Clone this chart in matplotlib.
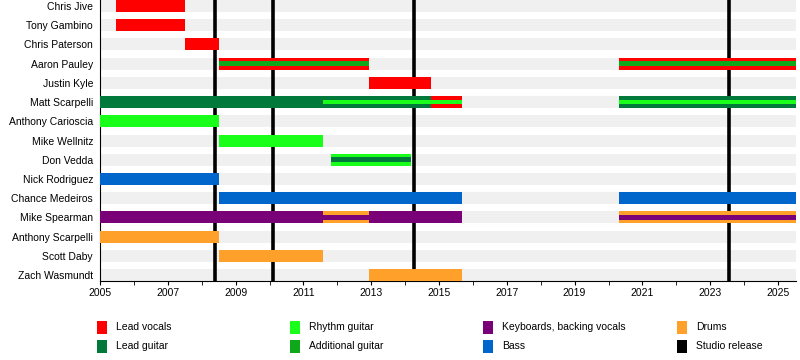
import matplotlib
matplotlib.use("Agg")
import matplotlib.pyplot as plt
from matplotlib.patches import Rectangle

plt.rcParams['font.family'] = ['Liberation Sans', 'DejaVu Sans']

# Members, top to bottom
members = [
    "Chris Jive", "Tony Gambino", "Chris Paterson", "Aaron Pauley", "Justin Kyle",
    "Matt Scarpelli", "Anthony Carioscia", "Mike Wellnitz", "Don Vedda",
    "Nick Rodriguez", "Chance Medeiros", "Mike Spearman", "Anthony Scarpelli",
    "Scott Daby", "Zach Wasmundt",
]

END = 2025.53

# Segments: member, start, end, main role, inner stripe role (None = no stripe)
seg_member = [
    "Chris Jive", "Tony Gambino", "Chris Paterson",
    "Aaron Pauley", "Aaron Pauley",
    "Justin Kyle",
    "Matt Scarpelli", "Matt Scarpelli", "Matt Scarpelli", "Matt Scarpelli",
    "Anthony Carioscia", "Mike Wellnitz", "Don Vedda",
    "Nick Rodriguez", "Chance Medeiros", "Chance Medeiros",
    "Mike Spearman", "Mike Spearman", "Mike Spearman", "Mike Spearman",
    "Anthony Scarpelli", "Scott Daby", "Zach Wasmundt",
]
seg_start = [
    2005.47, 2005.47, 2007.50,
    2008.50, 2020.30,
    2012.92,
    2005.00, 2011.58, 2014.76, 2020.30,
    2005.00, 2008.50, 2011.82,
    2005.00, 2008.50, 2020.30,
    2005.00, 2011.58, 2012.92, 2020.30,
    2005.00, 2008.50, 2012.92,
]
seg_end = [
    2007.50, 2007.50, 2008.52,
    2012.92, END,
    2014.76,
    2011.58, 2014.76, 2015.68, END,
    2008.52, 2011.58, 2014.17,
    2008.52, 2015.68, END,
    2011.58, 2012.92, 2015.68, END,
    2008.52, 2011.58, 2015.68,
]
seg_role = [
    "Lead vocals", "Lead vocals", "Lead vocals",
    "Lead vocals", "Lead vocals",
    "Lead vocals",
    "Lead guitar", "Lead guitar", "Lead vocals", "Lead guitar",
    "Rhythm guitar", "Rhythm guitar", "Rhythm guitar",
    "Bass", "Bass", "Bass",
    "Keyboards, backing vocals", "Drums", "Keyboards, backing vocals", "Drums",
    "Drums", "Drums", "Drums",
]
seg_stripe = [
    None, None, None,
    "Additional guitar", "Additional guitar",
    None,
    None, "Rhythm guitar", "Rhythm guitar", "Rhythm guitar",
    None, None, "Lead guitar",
    None, None, None,
    None, "Keyboards, backing vocals", None, "Keyboards, backing vocals",
    None, None, None,
]

releases = [2008.39, 2010.10, 2014.26, 2023.55]

colors = {
    "Lead vocals": "#ff0000",
    "Lead guitar": "#00793a",
    "Rhythm guitar": "#1aff1a",
    "Additional guitar": "#0fa81a",
    "Keyboards, backing vocals": "#7a0078",
    "Bass": "#0066cc",
    "Drums": "#ffa02a",
    "Studio release": "#000000",
}
# legend laid out column by column (two rows)
legend_order = [
    "Lead vocals", "Lead guitar", "Rhythm guitar", "Additional guitar",
    "Keyboards, backing vocals", "Bass", "Drums", "Studio release",
]

W, H = 800, 360
fig = plt.figure(figsize=(8, 3.6), dpi=100)
ax = fig.add_axes([0.125, 0.2194, 0.87, 0.7806])

bar_h = 0.625
ypos = {m: i for i, m in enumerate(members)}

# background bands
for i in range(len(members)):
    ax.barh(i, END - 2005, left=2005, height=bar_h, color="#f0f0f0", zorder=1)

# studio releases behind bars
for r in releases:
    ax.axvline(r, color="black", linewidth=2.6, zorder=2)

for m, s, e, role, stripe in zip(seg_member, seg_start, seg_end, seg_role, seg_stripe):
    y = ypos[m]
    ax.barh(y, e - s, left=s, height=bar_h, color=colors[role], zorder=3)
    if stripe:
        ax.barh(y, e - s, left=s, height=bar_h * 0.4, color=colors[stripe], zorder=4)

ax.set_xlim(2005, END)
ax.set_ylim(len(members) - 1 + bar_h / 2, -bar_h / 2)
ax.set_yticks(range(len(members)))
ax.set_yticklabels(members, fontsize=7.5)
ax.tick_params(axis='y', length=0, pad=5)
ax.set_xticks(range(2005, 2026, 2))
ax.set_xticks(range(2005, 2026), minor=True)
ax.tick_params(axis='x', which='major', length=3, labelsize=7.5, pad=2)
ax.tick_params(axis='x', which='minor', length=3)
for side in ["top", "right"]:
    ax.spines[side].set_visible(False)

# legend drawn by hand, pixel positions from the reference
col_x = [97, 290, 483, 677]
row_y = [327, 346]
for k, name in enumerate(legend_order):
    cx = col_x[k // 2]
    cy = row_y[k % 2]
    fig.add_artist(Rectangle((cx / W, (H - cy - 6.5) / H), 10 / W, 13 / H,
                             transform=fig.transFigure, facecolor=colors[name],
                             edgecolor="none"))
    fig.text((cx + 19) / W, (H - cy) / H, name, fontsize=7.5, va="center", ha="left")

fig.savefig("out.png", dpi=100)
